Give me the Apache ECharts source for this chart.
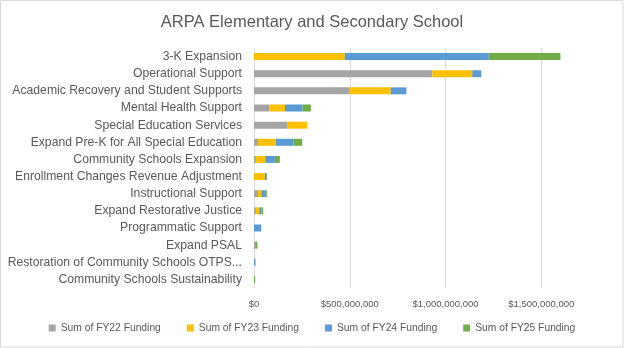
<!DOCTYPE html>
<html><head><meta charset="utf-8">
<script src="https://cdn.jsdelivr.net/npm/echarts@6/dist/echarts.min.js"></script>
<style>html,body{margin:0;padding:0;background:#fff}#c{width:624px;height:348px}</style>
</head><body><div id="c"></div>
<script>
const categories = ["3-K Expansion","Operational Support","Academic Recovery and Student Supports","Mental Health Support","Special Education Services","Expand Pre-K for All Special Education","Community Schools Expansion","Enrollment Changes Revenue Adjustment","Instructional Support","Expand Restorative Justice","Programmatic Support","Expand PSAL","Restoration of Community Schools OTPS...","Community Schools Sustainability"];
const fy22 = [0, 931e6, 500e6, 80e6, 172e6, 21e6, 10e6, 0, 21e6, 10e6, 0, 6e6, 0, 0];
const fy23 = [474e6, 209e6, 214e6, 82e6, 106e6, 92e6, 49e6, 57e6, 17e6, 17e6, 0, 0, 0, 0];
const fy24 = [752e6, 47e6, 82e6, 92e6, 0, 94e6, 50e6, 10e6, 19e6, 12e6, 38e6, 0, 5e6, 0];
const fy25 = [374e6, 0, 0, 43e6, 0, 45e6, 26e6, 0, 10e6, 9e6, 0, 12e6, 3e6, 6e6];
const seriesNames = ["Sum of FY22 Funding","Sum of FY23 Funding","Sum of FY24 Funding","Sum of FY25 Funding"];
const colors = ["#A5A5A5","#FFC000","#5B9BD5","#70AD47"];
const font = "Liberation Sans";
const chart = echarts.init(document.getElementById('c'));
const fmt = v => '$' + v.toLocaleString('en-US');
chart.setOption({
  animation:false,
  color: colors,
  graphic:[{type:'rect',silent:true,shape:{x:0.5,y:0.5,width:622.5,height:346.5},style:{fill:null,stroke:'#D9D9D9',lineWidth:1}}],
  title:{text:"ARPA Elementary and Secondary School",left:'center',top:9,textStyle:{fontFamily:font,fontSize:16.5,fontWeight:'normal',color:'#595959'}},
  legend:{bottom:10,left:'center',itemWidth:7,itemHeight:7,itemGap:26,icon:'rect',textStyle:{fontFamily:font,fontSize:10.3,color:'#595959'}},
  grid:{left:254,width:383,top:48,bottom:60,containLabel:false,outerBoundsMode:'none'},
  xAxis:{type:'value',min:0,max:2000000000,interval:500000000,
    axisLabel:{formatter:fmt,fontFamily:font,fontSize:9.5,color:'#595959',margin:11,showMaxLabel:false},
    splitLine:{lineStyle:{color:'#D9D9D9'}},axisLine:{show:false},axisTick:{show:false}},
  yAxis:{type:'category',data:categories,inverse:true,
    axisLabel:{fontFamily:font,fontSize:12.2,color:'#595959',margin:12},
    axisLine:{show:false},axisTick:{show:false}},
  series:[fy22,fy23,fy24,fy25].map((d,i)=>({name:seriesNames[i],type:'bar',stack:'t',data:d,barWidth:7}))
});
</script></body></html>
